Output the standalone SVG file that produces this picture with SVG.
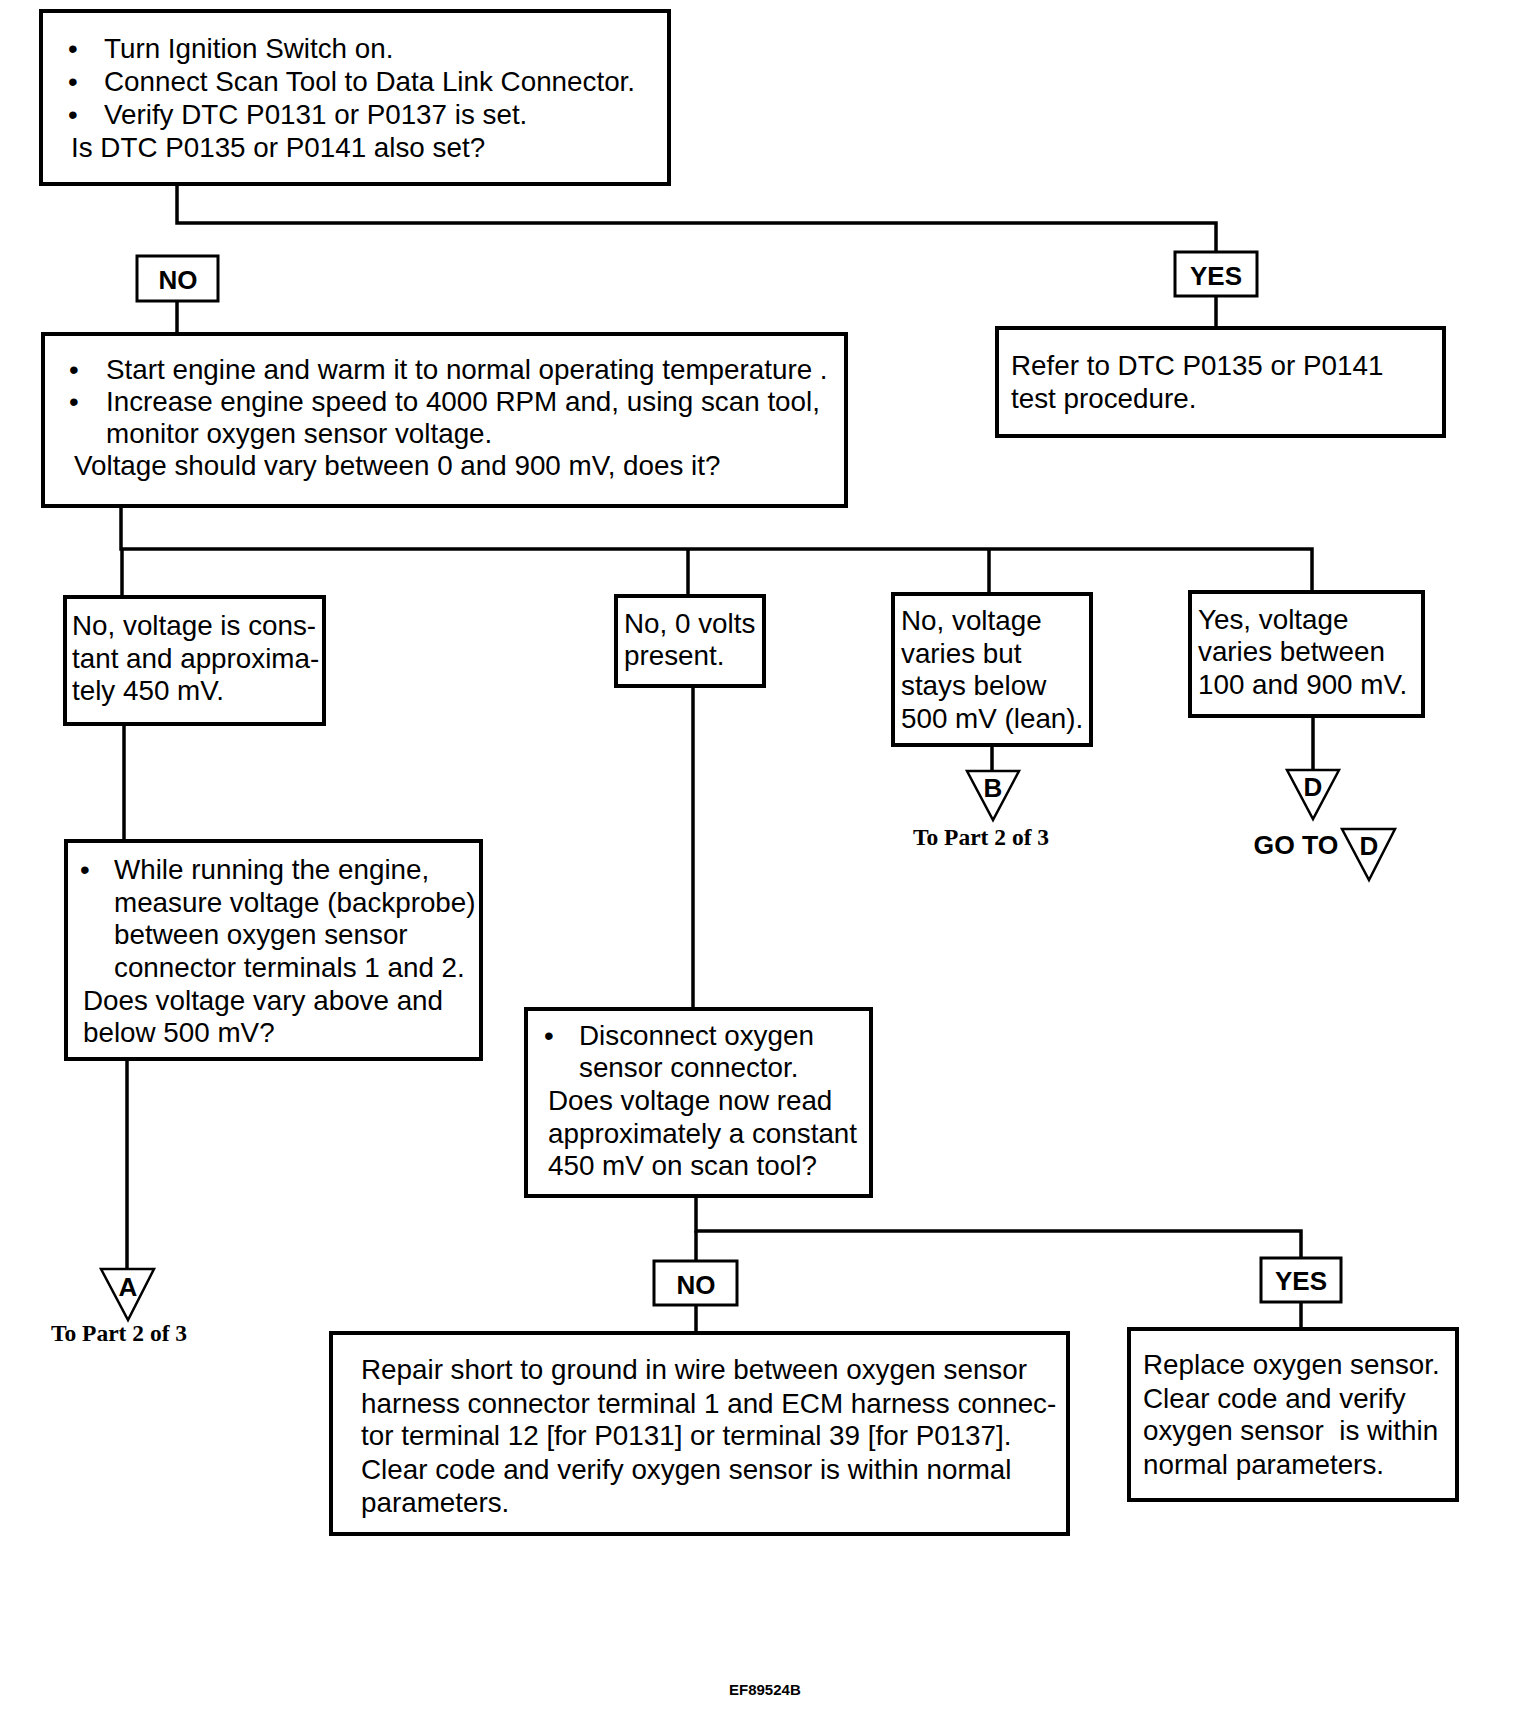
<svg xmlns="http://www.w3.org/2000/svg" width="1520" height="1734" viewBox="0 0 1520 1734">
<style>
.box{fill:#fff;stroke:#000;stroke-width:4}
.lbl{fill:#fff;stroke:#000;stroke-width:3}
.tri{fill:#fff;stroke:#000;stroke-width:2.5}
.con{fill:none;stroke:#000;stroke-width:3.5}
.t{font-family:"Liberation Sans",Arial,sans-serif;font-size:27.8px;fill:#000}
.b{font-family:"Liberation Sans",Arial,sans-serif;font-size:26px;font-weight:bold;fill:#000;text-anchor:middle}
.L{font-size:26px}
.s{font-family:"Liberation Serif","Times New Roman",serif;font-size:23.5px;font-weight:bold;fill:#000;text-anchor:middle}
</style>
<rect width="1520" height="1734" fill="#fff"/>
<g id="connectors" class="con">
<polyline points="177,184 177,223 1216,223 1216,252"/>
<line x1="177" y1="301" x2="177" y2="334"/>
<line x1="1216" y1="296" x2="1216" y2="328"/>
<polyline points="121,506 121,549 1312,549 1312,592"/>
<line x1="122" y1="549" x2="122" y2="597"/>
<line x1="688" y1="549" x2="688" y2="596"/>
<line x1="989" y1="549" x2="989" y2="594"/>
<line x1="124" y1="724" x2="124" y2="841"/>
<line x1="127" y1="1059" x2="127" y2="1269"/>
<line x1="693" y1="686" x2="693" y2="1008"/>
<line x1="992" y1="745" x2="992" y2="771"/>
<line x1="1313" y1="716" x2="1313" y2="770"/>
<polyline points="696,1196 696,1231 1301,1231 1301,1258"/>
<line x1="696" y1="1231" x2="696" y2="1261"/>
<line x1="696" y1="1305" x2="696" y2="1333"/>
<line x1="1301" y1="1302" x2="1301" y2="1329"/>
</g>
<g id="n1">
<rect class="box" x="41" y="11" width="628" height="173"/>
<text class="t" x="68" y="58">•</text><text class="t" x="104" y="58">Turn Ignition Switch on.</text>
<text class="t" x="68" y="91">•</text><text class="t" x="104" y="91">Connect Scan Tool to Data Link Connector.</text>
<text class="t" x="68" y="124">•</text><text class="t" x="104" y="124">Verify DTC P0131 or P0137 is set.</text>
<text class="t" x="71" y="157">Is DTC P0135 or P0141 also set?</text>
</g>
<g id="lbl-no1"><rect class="lbl" x="137" y="256" width="81" height="45"/><text class="b" x="178" y="289">NO</text></g>
<g id="lbl-yes1"><rect class="lbl" x="1175" y="252" width="82" height="44"/><text class="b" x="1216" y="285">YES</text></g>
<g id="n2">
<rect class="box" x="43" y="334" width="803" height="172"/>
<text class="t" x="69" y="379">•</text><text class="t" x="106" y="379">Start engine and warm it to normal operating temperature .</text>
<text class="t" x="69" y="411">•</text><text class="t" x="106" y="411">Increase engine speed to 4000 RPM and, using scan tool,</text>
<text class="t" x="106" y="443">monitor oxygen sensor voltage.</text>
<text class="t" x="74" y="475">Voltage should vary between 0 and 900 mV, does it?</text>
</g>
<g id="n3">
<rect class="box" x="997" y="328" width="447" height="108"/>
<text class="t" x="1011" y="375">Refer to DTC P0135 or P0141</text>
<text class="t" x="1011" y="408">test procedure.</text>
</g>
<g id="n4">
<rect class="box" x="65" y="597" width="259" height="127"/>
<text class="t" x="72" y="635">No, voltage is cons-</text>
<text class="t" x="72" y="668">tant and approxima-</text>
<text class="t" x="72" y="700">tely 450 mV.</text>
</g>
<g id="n5">
<rect class="box" x="616" y="596" width="148" height="90"/>
<text class="t" x="624" y="633">No, 0 volts</text>
<text class="t" x="624" y="665">present.</text>
</g>
<g id="n6">
<rect class="box" x="893" y="594" width="198" height="151"/>
<text class="t" x="901" y="630">No, voltage</text>
<text class="t" x="901" y="663">varies but</text>
<text class="t" x="901" y="695">stays below</text>
<text class="t" x="901" y="728">500 mV (lean).</text>
</g>
<g id="n7">
<rect class="box" x="1190" y="592" width="233" height="124"/>
<text class="t" x="1198" y="629">Yes, voltage</text>
<text class="t" x="1198" y="661">varies between</text>
<text class="t" x="1198" y="694">100 and 900 mV.</text>
</g>
<g id="conB">
<polygon class="tri" points="967,771 1019,771 993,820"/>
<text class="b L" x="993" y="797">B</text>
<text class="s" x="981" y="845">To Part 2 of 3</text>
</g>
<g id="conD">
<polygon class="tri" points="1287,770 1339,770 1313,819"/>
<text class="b L" x="1313" y="796">D</text>
<text class="b" x="1296" y="854" style="font-size:26.5px">GO TO</text>
<polygon class="tri" points="1342,829 1395,829 1369,880"/>
<text class="b L" x="1369" y="855">D</text>
</g>
<g id="n8">
<rect class="box" x="66" y="841" width="415" height="218"/>
<text class="t" x="80" y="879">•</text><text class="t" x="114" y="879">While running the engine,</text>
<text class="t" x="114" y="912">measure voltage (backprobe)</text>
<text class="t" x="114" y="944">between oxygen sensor</text>
<text class="t" x="114" y="977">connector terminals 1 and 2.</text>
<text class="t" x="83" y="1010">Does voltage vary above and</text>
<text class="t" x="83" y="1042">below 500 mV?</text>
</g>
<g id="conA">
<polygon class="tri" points="101,1269 154,1269 128,1320"/>
<text class="b L" x="128" y="1296">A</text>
<text class="s" x="119" y="1341">To Part 2 of 3</text>
</g>
<g id="n9">
<rect class="box" x="526" y="1009" width="345" height="187"/>
<text class="t" x="544" y="1045">•</text><text class="t" x="579" y="1045">Disconnect oxygen</text>
<text class="t" x="579" y="1077">sensor connector.</text>
<text class="t" x="548" y="1110">Does voltage now read</text>
<text class="t" x="548" y="1143">approximately a constant</text>
<text class="t" x="548" y="1175">450 mV on scan tool?</text>
</g>
<g id="lbl-no2"><rect class="lbl" x="654" y="1261" width="83" height="44"/><text class="b" x="696" y="1294">NO</text></g>
<g id="lbl-yes2"><rect class="lbl" x="1261" y="1258" width="80" height="44"/><text class="b" x="1301" y="1290">YES</text></g>
<g id="n10">
<rect class="box" x="331" y="1333" width="737" height="201"/>
<text class="t" x="361" y="1379">Repair short to ground in wire between oxygen sensor</text>
<text class="t" x="361" y="1413">harness connector terminal 1 and ECM harness connec-</text>
<text class="t" x="361" y="1445">tor terminal 12 [for P0131] or terminal 39 [for P0137].</text>
<text class="t" x="361" y="1479">Clear code and verify oxygen sensor is within normal</text>
<text class="t" x="361" y="1512">parameters.</text>
</g>
<g id="n11">
<rect class="box" x="1129" y="1329" width="328" height="171"/>
<text class="t" x="1143" y="1374">Replace oxygen sensor.</text>
<text class="t" x="1143" y="1408">Clear code and verify</text>
<text class="t" x="1143" y="1440" style="white-space:pre">oxygen sensor  is within</text>
<text class="t" x="1143" y="1474">normal parameters.</text>
</g>
<text x="729" y="1695" style="font-family:'Liberation Sans',Arial,sans-serif;font-size:15px;font-weight:bold">EF89524B</text>
</svg>
